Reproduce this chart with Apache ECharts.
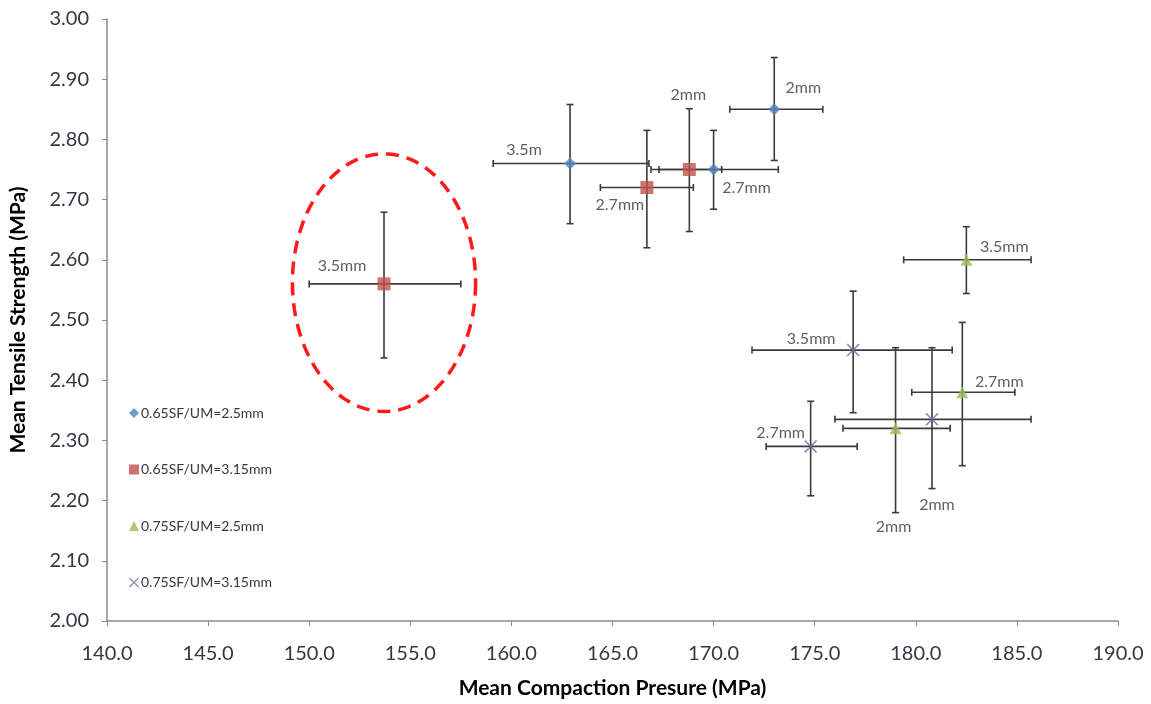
<!DOCTYPE html>
<html>
<head>
<meta charset="utf-8">
<script src="https://cdn.jsdelivr.net/npm/echarts@6/dist/echarts.min.js"></script>
<style>
  html, body { margin: 0; padding: 0; background: #ffffff; }
  #chart { width: 1151px; height: 704px; }
</style>
</head>
<body>
<div id="chart"></div>
<script>
// ---- Data ----
const seriesNames = ['0.65SF/UM=2.5mm', '0.65SF/UM=3.15mm', '0.75SF/UM=2.5mm', '0.75SF/UM=3.15mm'];

// 0.65SF/UM=2.5mm
const s1X     = [162.9, 170.0, 173.0];
const s1Y     = [2.76, 2.75, 2.85];
const s1XLow  = [159.1, 166.9, 170.8];
const s1XHigh = [166.8, 173.2, 175.4];
const s1YLow  = [2.660, 2.684, 2.765];
const s1YHigh = [2.858, 2.815, 2.936];
const s1Labels = ['3.5m', '2.7mm', '2mm'];

// 0.65SF/UM=3.15mm
const s2X     = [153.7, 166.7, 168.8];
const s2Y     = [2.56, 2.72, 2.75];
const s2XLow  = [150.0, 164.4, 167.3];
const s2XHigh = [157.5, 169.0, 170.4];
const s2YLow  = [2.437, 2.620, 2.647];
const s2YHigh = [2.679, 2.815, 2.851];
const s2Labels = ['3.5mm', '2.7mm', '2mm'];

// 0.75SF/UM=2.5mm
const s3X     = [182.5, 182.3, 179.0];
const s3Y     = [2.60, 2.38, 2.32];
const s3XLow  = [179.4, 179.8, 176.4];
const s3XHigh = [185.7, 184.9, 181.7];
const s3YLow  = [2.544, 2.258, 2.180];
const s3YHigh = [2.655, 2.496, 2.454];
const s3Labels = ['3.5mm', '2.7mm', '2mm'];

// 0.75SF/UM=3.15mm
const s4X     = [176.9, 174.8, 180.8];
const s4Y     = [2.45, 2.29, 2.335];
const s4XLow  = [171.9, 172.6, 176.0];
const s4XHigh = [181.8, 177.1, 185.7];
const s4YLow  = [2.346, 2.208, 2.220];
const s4YHigh = [2.548, 2.365, 2.454];
const s4Labels = ['3.5mm', '2.7mm', '2mm'];

// Highlight ellipse (data units): centre x, centre y, radius x, radius y
const ellipseCX = [153.7];
const ellipseCY = [2.562];
const ellipseRX = [4.53];
const ellipseRY = [0.214];

// Axis ticks
const xTicks = [140, 145, 150, 155, 160, 165, 170, 175, 180, 185, 190];
const yTicks = [2.0, 2.1, 2.2, 2.3, 2.4, 2.5, 2.6, 2.7, 2.8, 2.9, 3.0];

// ---- Layout / style (not data) ----
const labelOffsets = [
  [[-46, -14], [33, 18], [29, -21]],
  [[-42, -18], [-27, 17], [-1, -75]],
  [[38, -13], [37, -10], [-2, 98]],
  [[-42, -11], [-30, -14], [5, 86]]
];
const colors = ['#4F81BD', '#C0504D', '#9BBB59', '#8064A2'];
const xPath = 'path://M0,0.9 L0.9,0 L5,4.1 L9.1,0 L10,0.9 L5.9,5 L10,9.1 L9.1,10 L5,5.9 L0.9,10 L0,9.1 L4.1,5 Z';
const symbols = ['diamond', 'rect', 'triangle', xPath];
const symbolSizes = [12, 13, 12, 13];
const FONT = 'Lato, "Open Sans", sans-serif';
const TXT = '#363644';

const groups = [
  [s1X, s1Y, s1XLow, s1XHigh, s1YLow, s1YHigh, s1Labels],
  [s2X, s2Y, s2XLow, s2XHigh, s2YLow, s2YHigh, s2Labels],
  [s3X, s3Y, s3XLow, s3XHigh, s3YLow, s3YHigh, s3Labels],
  [s4X, s4Y, s4XLow, s4XHigh, s4YLow, s4YHigh, s4Labels]
];

function renderErr(params, api) {
  const x = api.value(0), y = api.value(1);
  const xl = api.value(2), xh = api.value(3), yl = api.value(4), yh = api.value(5);
  const pL = api.coord([xl, y]), pR = api.coord([xh, y]);
  const pT = api.coord([x, yh]), pB = api.coord([x, yl]);
  const c = 3.5;
  const st = { stroke: '#3a3a3a', lineWidth: 1.6 };
  const ln = (x1, y1, x2, y2) => ({ type: 'line', shape: { x1, y1, x2, y2 }, style: st });
  return {
    type: 'group',
    children: [
      ln(pL[0], pL[1], pR[0], pR[1]),
      ln(pL[0], pL[1] - c, pL[0], pL[1] + c),
      ln(pR[0], pR[1] - c, pR[0], pR[1] + c),
      ln(pT[0], pT[1], pB[0], pB[1]),
      ln(pT[0] - c, pT[1], pT[0] + c, pT[1]),
      ln(pB[0] - c, pB[1], pB[0] + c, pB[1])
    ]
  };
}

function renderEllipse(params, api) {
  const c = api.coord([api.value(0), api.value(1)]);
  const s = api.size([api.value(2), api.value(3)]);
  const pts = [];
  for (let i = 0; i < 120; i++) {
    const a = (i / 120) * Math.PI * 2;
    pts.push([c[0] + s[0] * Math.cos(a), c[1] + s[1] * Math.sin(a)]);
  }
  return {
    type: 'polygon',
    shape: { points: pts },
    style: { fill: 'none', stroke: '#FF1A1A', lineWidth: 3.5, lineDash: [13, 8] },
    z2: 1
  };
}

const series = [];
groups.forEach((g, gi) => {
  const [xs, ys, xl, xh, yl, yh] = g;
  series.push({
    type: 'custom',
    name: 'err' + gi,
    renderItem: renderErr,
    encode: { x: 0, y: 1 },
    data: xs.map((v, i) => [v, ys[i], xl[i], xh[i], yl[i], yh[i]]),
    z: 2,
    silent: true
  });
});
groups.forEach((g, gi) => {
  const [xs, ys, , , , , labs] = g;
  series.push({
    type: 'scatter',
    name: seriesNames[gi],
    symbol: symbols[gi],
    symbolSize: symbolSizes[gi],
    itemStyle: { color: colors[gi] },
    z: 5,
    data: xs.map((v, i) => ({
      value: [v, ys[i]],
      label: {
        show: true,
        position: 'inside',
        offset: labelOffsets[gi][i],
        formatter: labs[i],
        color: TXT,
        fontSize: 16,
        fontFamily: FONT
      }
    }))
  });
});
series.push({
  type: 'custom',
  name: 'ellipse',
  renderItem: renderEllipse,
  encode: { x: 0, y: 1 },
  data: ellipseCX.map((v, i) => [v, ellipseCY[i], ellipseRX[i], ellipseRY[i]]),
  z: 3,
  silent: true
});

const chart = echarts.init(document.getElementById('chart'), null, { renderer: 'canvas' });
chart.setOption({
  backgroundColor: '#ffffff',
  animation: false,
  grid: { left: 106, right: 33, top: 19, bottom: 82, containLabel: false },
  legend: {
    data: seriesNames.map((n, i) => ({ name: n, icon: symbols[i] })),
    orient: 'vertical',
    left: 124,
    top: 401,
    itemWidth: 10,
    itemHeight: 10,
    itemGap: 42.5,
    textStyle: { fontSize: 14, color: TXT, fontFamily: FONT, padding: [0, 0, 0, -3] },
    selectedMode: false
  },
  xAxis: {
    type: 'value',
    min: xTicks[0],
    max: xTicks[xTicks.length - 1],
    interval: 5,
    name: 'Mean Compaction Presure (MPa)',
    nameLocation: 'middle',
    nameGap: 57,
    nameTextStyle: { fontSize: 21, fontWeight: 'bold', color: '#000', fontFamily: FONT },
    axisLine: { show: true, lineStyle: { color: '#8a8a8a', width: 1.5 } },
    axisTick: { show: true, length: 5, lineStyle: { color: '#8a8a8a' } },
    axisLabel: { fontSize: 20, color: TXT, fontFamily: FONT, margin: 23, formatter: v => v.toFixed(1) },
    splitLine: { show: false }
  },
  yAxis: {
    type: 'value',
    min: yTicks[0],
    max: yTicks[yTicks.length - 1],
    interval: 0.1,
    name: 'Mean Tensile Strength (MPa)',
    nameLocation: 'middle',
    nameGap: 78,
    nameTextStyle: { fontSize: 21, fontWeight: 'bold', color: '#000', fontFamily: FONT },
    axisLine: { show: true, lineStyle: { color: '#8a8a8a', width: 1.5 } },
    axisTick: { show: true, length: 5, lineStyle: { color: '#8a8a8a' } },
    axisLabel: { fontSize: 20, color: TXT, fontFamily: FONT, margin: 18, formatter: v => v.toFixed(2) },
    splitLine: { show: false }
  },
  series: series
});
</script>
</body>
</html>
